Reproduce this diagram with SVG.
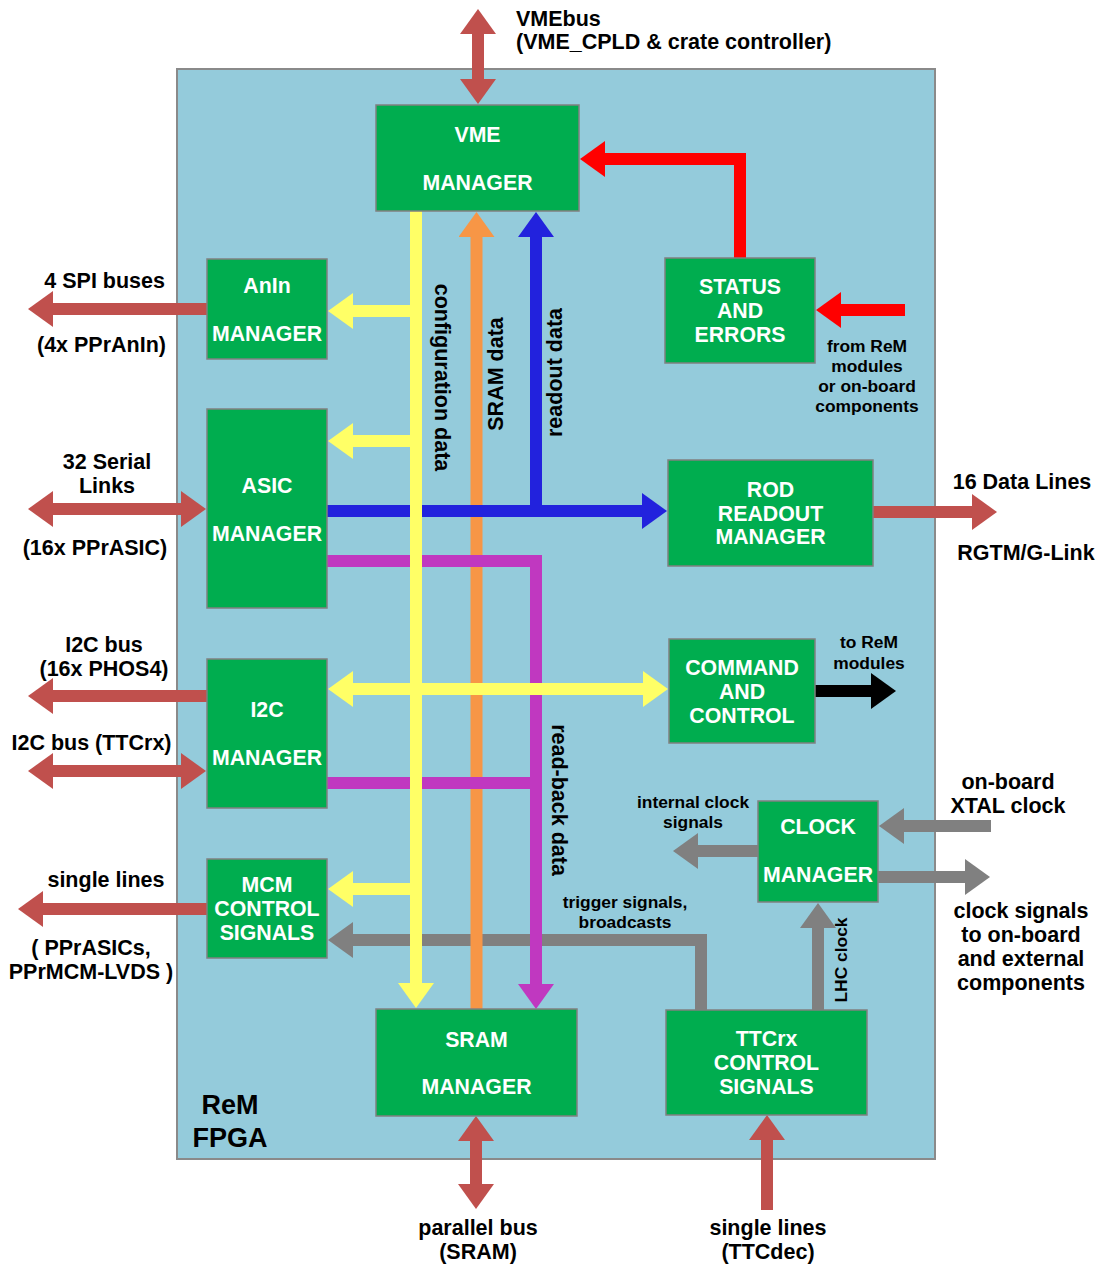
<svg xmlns="http://www.w3.org/2000/svg" width="1101" height="1266" viewBox="0 0 1101 1266">
<style>
.bg{fill:#94CBDB;stroke:#8a8a8a;stroke-width:2}
.node rect{fill:#00AD4F;stroke:#808080;stroke-width:1.5}
.nt{fill:#fff;font-family:"Liberation Sans",Arial,sans-serif;font-weight:bold;font-size:21.3px;text-anchor:middle}
.lb{fill:#000;font-family:"Liberation Sans",Arial,sans-serif;font-weight:bold;font-size:21.5px}
.sm{font-size:17.4px}
.mid{text-anchor:middle}
.end{text-anchor:end}
.c line,.c polyline{fill:none;stroke-width:12;stroke-linecap:butt;stroke-linejoin:miter}
.br{stroke:#C0504D}
.ye{stroke:#FFFF66}
.or{stroke:#F79646}
.bl{stroke:#2222DD}
.mg{stroke:#C038C0}
.rd{stroke:#FF0000}
.bk{stroke:#000}
.gy{stroke:#808080}
</style>
<defs>
<marker id="hBr" markerUnits="userSpaceOnUse" markerWidth="26" markerHeight="36" viewBox="0 0 26 36" refX="1" refY="18" orient="auto-start-reverse"><path d="M0,0 L25,18 L0,36z" fill="#C0504D"/></marker>
<marker id="hYe" markerUnits="userSpaceOnUse" markerWidth="26" markerHeight="36" viewBox="0 0 26 36" refX="1" refY="18" orient="auto-start-reverse"><path d="M0,0 L25,18 L0,36z" fill="#FFFF66"/></marker>
<marker id="hOr" markerUnits="userSpaceOnUse" markerWidth="26" markerHeight="36" viewBox="0 0 26 36" refX="1" refY="18" orient="auto-start-reverse"><path d="M0,0 L25,18 L0,36z" fill="#F79646"/></marker>
<marker id="hBl" markerUnits="userSpaceOnUse" markerWidth="26" markerHeight="36" viewBox="0 0 26 36" refX="1" refY="18" orient="auto-start-reverse"><path d="M0,0 L25,18 L0,36z" fill="#2222DD"/></marker>
<marker id="hMg" markerUnits="userSpaceOnUse" markerWidth="26" markerHeight="36" viewBox="0 0 26 36" refX="1" refY="18" orient="auto-start-reverse"><path d="M0,0 L25,18 L0,36z" fill="#C038C0"/></marker>
<marker id="hRd" markerUnits="userSpaceOnUse" markerWidth="26" markerHeight="36" viewBox="0 0 26 36" refX="1" refY="18" orient="auto-start-reverse"><path d="M0,0 L25,18 L0,36z" fill="#FF0000"/></marker>
<marker id="hBk" markerUnits="userSpaceOnUse" markerWidth="26" markerHeight="36" viewBox="0 0 26 36" refX="1" refY="18" orient="auto-start-reverse"><path d="M0,0 L25,18 L0,36z" fill="#000"/></marker>
<marker id="hGy" markerUnits="userSpaceOnUse" markerWidth="26" markerHeight="36" viewBox="0 0 26 36" refX="1" refY="18" orient="auto-start-reverse"><path d="M0,0 L25,18 L0,36z" fill="#808080"/></marker>
</defs>
<rect width="1101" height="1266" fill="#fff"/>
<rect id="fpga" class="bg" x="177" y="69" width="758" height="1090"/>
<text class="lb" style="font-size:27px" x="230" y="1114" text-anchor="middle">ReM</text>
<text class="lb" style="font-size:27px" x="230" y="1147" text-anchor="middle">FPGA</text>

<g id="connectors" class="c">
<line class="gy" x1="991" y1="826" x2="903" y2="826" marker-end="url(#hGy)"/>
<line class="gy" x1="878" y1="877" x2="966" y2="877" marker-end="url(#hGy)"/>
<line class="gy" x1="758" y1="851" x2="697" y2="851" marker-end="url(#hGy)"/>
<line class="gy" x1="818" y1="1010" x2="818" y2="927" marker-end="url(#hGy)"/>
<polyline class="gy" points="701,1010 701,940 352,940" marker-end="url(#hGy)"/>
<line class="or" x1="476.5" y1="1009" x2="476.5" y2="236" marker-end="url(#hOr)"/>
<line class="bl" x1="536" y1="517" x2="536" y2="236" marker-end="url(#hBl)"/>
<line class="bl" x1="327" y1="511" x2="643" y2="511" marker-end="url(#hBl)"/>
<polyline class="mg" points="327,561 536,561 536,985" marker-end="url(#hMg)"/>
<line class="mg" x1="327" y1="783" x2="536" y2="783"/>
<line class="ye" x1="416" y1="211" x2="416" y2="984" marker-end="url(#hYe)"/>
<line class="ye" x1="416" y1="311" x2="352" y2="311" marker-end="url(#hYe)"/>
<line class="ye" x1="416" y1="441" x2="352" y2="441" marker-end="url(#hYe)"/>
<line class="ye" x1="352" y1="689" x2="644" y2="689" marker-start="url(#hYe)" marker-end="url(#hYe)"/>
<line class="ye" x1="416" y1="889" x2="352" y2="889" marker-end="url(#hYe)"/>
<polyline class="rd" points="740,258 740,159 604,159" marker-end="url(#hRd)"/>
<line class="rd" x1="905" y1="310" x2="840" y2="310" marker-end="url(#hRd)"/>
<line class="bk" x1="815" y1="691" x2="872" y2="691" marker-end="url(#hBk)"/>
<line class="br" x1="478" y1="33" x2="478" y2="80" marker-start="url(#hBr)" marker-end="url(#hBr)"/>
<line class="br" x1="207" y1="309" x2="52" y2="309" marker-end="url(#hBr)"/>
<line class="br" x1="52" y1="509" x2="182" y2="509" marker-start="url(#hBr)" marker-end="url(#hBr)"/>
<line class="br" x1="207" y1="696" x2="52" y2="696" marker-end="url(#hBr)"/>
<line class="br" x1="52" y1="771" x2="182" y2="771" marker-start="url(#hBr)" marker-end="url(#hBr)"/>
<line class="br" x1="207" y1="909" x2="42" y2="909" marker-end="url(#hBr)"/>
<line class="br" x1="873" y1="512" x2="973" y2="512" marker-end="url(#hBr)"/>
<line class="br" x1="476" y1="1140" x2="476" y2="1185" marker-start="url(#hBr)" marker-end="url(#hBr)"/>
<line class="br" x1="767" y1="1210" x2="767" y2="1139" marker-end="url(#hBr)"/>
</g>

<g id="vme" class="node"><rect x="376" y="105" width="203" height="106"/><text class="nt" x="477.5" y="142">VME</text><text class="nt" x="477.5" y="190">MANAGER</text></g>
<g id="anin" class="node"><rect x="207" y="259" width="120" height="100"/><text class="nt" x="267" y="293">AnIn</text><text class="nt" x="267" y="341">MANAGER</text></g>
<g id="asic" class="node"><rect x="207" y="409" width="120" height="199"/><text class="nt" x="267" y="493">ASIC</text><text class="nt" x="267" y="541">MANAGER</text></g>
<g id="i2c" class="node"><rect x="207" y="659" width="120" height="149"/><text class="nt" x="267" y="717">I2C</text><text class="nt" x="267" y="765">MANAGER</text></g>
<g id="mcm" class="node"><rect x="207" y="859" width="120" height="99"/><text class="nt" x="267" y="892">MCM</text><text class="nt" x="267" y="916">CONTROL</text><text class="nt" x="267" y="940">SIGNALS</text></g>
<g id="status" class="node"><rect x="665" y="258" width="150" height="105"/><text class="nt" x="740" y="294">STATUS</text><text class="nt" x="740" y="318">AND</text><text class="nt" x="740" y="342">ERRORS</text></g>
<g id="rod" class="node"><rect x="668" y="460" width="205" height="106"/><text class="nt" x="770.5" y="497">ROD</text><text class="nt" x="770.5" y="521">READOUT</text><text class="nt" x="770.5" y="544">MANAGER</text></g>
<g id="command" class="node"><rect x="669" y="639" width="146" height="104"/><text class="nt" x="742" y="675">COMMAND</text><text class="nt" x="742" y="699">AND</text><text class="nt" x="742" y="723">CONTROL</text></g>
<g id="clock" class="node"><rect x="758" y="801" width="120" height="101"/><text class="nt" x="818" y="834">CLOCK</text><text class="nt" x="818" y="882">MANAGER</text></g>
<g id="sram" class="node"><rect x="376" y="1009" width="201" height="107"/><text class="nt" x="476.5" y="1047">SRAM</text><text class="nt" x="476.5" y="1094">MANAGER</text></g>
<g id="ttcrx" class="node"><rect x="666" y="1010" width="201" height="105"/><text class="nt" x="766.5" y="1046">TTCrx</text><text class="nt" x="766.5" y="1070">CONTROL</text><text class="nt" x="766.5" y="1094">SIGNALS</text></g>

<g id="labels">
<text class="lb" x="516" y="26">VMEbus</text>
<text class="lb" x="516" y="49">(VME_CPLD &amp; crate controller)</text>
<text class="lb end" x="165" y="288">4 SPI buses</text>
<text class="lb end" x="166" y="352">(4x PPrAnIn)</text>
<text class="lb mid" x="107" y="469">32 Serial</text>
<text class="lb mid" x="107" y="493">Links</text>
<text class="lb mid" x="95" y="555">(16x PPrASIC)</text>
<text class="lb mid" x="104" y="652">I2C bus</text>
<text class="lb mid" x="104" y="676">(16x PHOS4)</text>
<text class="lb mid" x="91.5" y="750">I2C bus (TTCrx)</text>
<text class="lb mid" x="106" y="887">single lines</text>
<text class="lb mid" x="91" y="955">( PPrASICs,</text>
<text class="lb mid" x="91" y="979">PPrMCM-LVDS )</text>
<text class="lb mid" x="1022" y="489">16 Data Lines</text>
<text class="lb mid" x="1026" y="560">RGTM/G-Link</text>
<text class="lb sm mid" x="867" y="352">from ReM</text>
<text class="lb sm mid" x="867" y="372">modules</text>
<text class="lb sm mid" x="867" y="392">or on-board</text>
<text class="lb sm mid" x="867" y="412">components</text>
<text class="lb sm mid" x="869" y="648">to ReM</text>
<text class="lb sm mid" x="869" y="669">modules</text>
<text class="lb sm mid" x="693" y="808">internal clock</text>
<text class="lb sm mid" x="693" y="828">signals</text>
<text class="lb sm mid" x="625" y="908">trigger signals,</text>
<text class="lb sm mid" x="625" y="928">broadcasts</text>
<text class="lb mid" x="1008" y="789">on-board</text>
<text class="lb mid" x="1008" y="813">XTAL clock</text>
<text class="lb mid" x="1021" y="918">clock signals</text>
<text class="lb mid" x="1021" y="942">to on-board</text>
<text class="lb mid" x="1021" y="966">and external</text>
<text class="lb mid" x="1021" y="990">components</text>
<text class="lb mid" x="478" y="1235">parallel bus</text>
<text class="lb mid" x="478" y="1259">(SRAM)</text>
<text class="lb mid" x="768" y="1235">single lines</text>
<text class="lb mid" x="768" y="1259">(TTCdec)</text>
<text class="lb mid" transform="translate(435,377.5) rotate(90)">configuration data</text>
<text class="lb mid" transform="translate(503,374) rotate(-90)">SRAM data</text>
<text class="lb mid" transform="translate(562,372.5) rotate(-90)">readout data</text>
<text class="lb mid" transform="translate(552,800) rotate(90)">read-back data</text>
<text class="lb sm mid" transform="translate(847,960) rotate(-90)">LHC clock</text>
</g>
</svg>
